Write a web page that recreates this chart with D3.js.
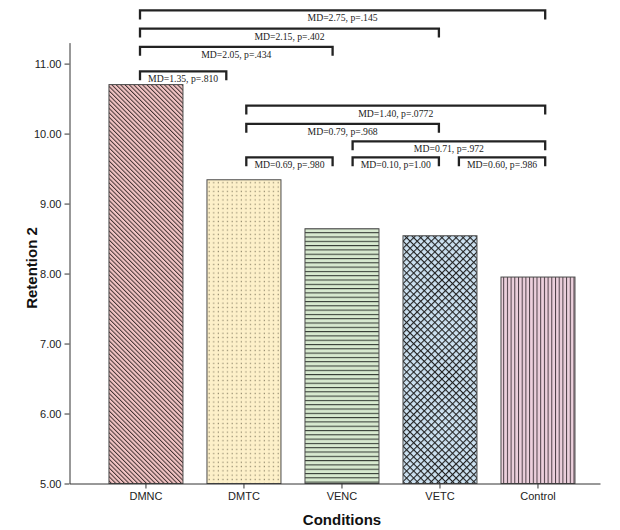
<!DOCTYPE html>
<html>
<head>
<meta charset="utf-8">
<script src="https://cdn.jsdelivr.net/npm/d3@7"></script>
<style>
    body { margin: 0; background: #fff; }
    .tick text { font-family: "Liberation Sans", Arial, sans-serif; font-size: 11px; fill: #222; }
    .axis-title { font-family: "Liberation Sans", Arial, sans-serif; font-size: 15px; font-weight: bold; fill: #111; }
    .md-label { font-family: "Liberation Serif", "Times New Roman", serif; font-size: 9.7px; fill: #222; }
</style>
</head>
<body>
<div id="chart"></div>
<script>
/* ===== DATA ===== */
const categories = ["DMNC", "DMTC", "VENC", "VETC", "Control"];
const means = [10.70, 9.34, 8.64, 8.54, 7.95];
const yTicks = [5, 6, 7, 8, 9, 10, 11];

// pairwise comparisons: from index, to index, bracket height (in y units), label
const pairFrom = [0, 0, 0, 0, 1, 1, 2, 1, 2, 3];
const pairTo = [4, 3, 2, 1, 4, 3, 4, 2, 3, 4];
const pairLevel = [11.76, 11.50, 11.24, 10.89, 10.40, 10.14, 9.89, 9.66, 9.66, 9.66];
const pairLabels = [
    "MD=2.75, p=.145",
    "MD=2.15, p=.402",
    "MD=2.05, p=.434",
    "MD=1.35, p=.810",
    "MD=1.40, p=.0772",
    "MD=0.79, p=.968",
    "MD=0.71, p=.972",
    "MD=0.69, p=.980",
    "MD=0.10, p=1.00",
    "MD=0.60, p=.986"
];

/* ===== LAYOUT ===== */
const width = 620;
const height = 530;
const margin = { left: 69.5, right: 20, top: 42.6, bottom: 46.5 };

const svg = d3.select("#chart")
    .append("svg")
    .attr("width", width)
    .attr("height", height);

/* ===== PATTERNS ===== */
const defs = svg.append("defs");

function addPattern(id, size, bg, transform) {
    const p = defs.append("pattern")
        .attr("id", id)
        .attr("patternUnits", "userSpaceOnUse")
        .attr("width", size[0])
        .attr("height", size[1]);
    if (transform) p.attr("patternTransform", transform);
    p.append("rect")
        .attr("width", size[0])
        .attr("height", size[1])
        .attr("fill", bg);
    return p;
}

// diagonal "\" lines
addPattern("pat-0", [3.1, 3.1], "#f3c5c5", "rotate(-45)")
    .append("line")
    .attr("x1", 0.5).attr("y1", 0).attr("x2", 0.5).attr("y2", 3.1)
    .attr("stroke", "#3a2c2c").attr("stroke-width", 0.95);

// dots
addPattern("pat-1", [4.6, 4.3], "#fdf0c9")
    .append("rect")
    .attr("x", 1.6).attr("y", 1.5).attr("width", 1.1).attr("height", 1.3)
    .attr("fill", "#8d8468");

// horizontal lines
addPattern("pat-2", [4, 4.3], "#d7e9cf")
    .append("line")
    .attr("x1", 0).attr("y1", 0.5).attr("x2", 4).attr("y2", 0.5)
    .attr("stroke", "#333a33").attr("stroke-width", 1.1);

// crosshatch
const cross = addPattern("pat-3", [5, 5], "#cde2f2", "rotate(45)");
cross.append("line")
    .attr("x1", 0.5).attr("y1", 0).attr("x2", 0.5).attr("y2", 5)
    .attr("stroke", "#222").attr("stroke-width", 1.2);
cross.append("line")
    .attr("x1", 0).attr("y1", 0.5).attr("x2", 5).attr("y2", 0.5)
    .attr("stroke", "#222").attr("stroke-width", 1.2);

// vertical lines
addPattern("pat-4", [3.7, 4], "#ecd0dc")
    .append("line")
    .attr("x1", 0.5).attr("y1", 0).attr("x2", 0.5).attr("y2", 4)
    .attr("stroke", "#4a3d44").attr("stroke-width", 1);

/* ===== SCALES ===== */
const x = d3.scaleBand()
    .domain(categories)
    .range([margin.left, width - margin.right])
    .paddingInner(0.245)
    .paddingOuter(0.329)
    .align(0.612);

const y = d3.scaleLinear()
    .domain([5, 11.3])
    .range([height - margin.bottom, margin.top]);

// brackets were laid out on their own index grid
const bx = d3.scaleLinear()
    .domain([0, 4])
    .range([140, 565.2]);
const bracketInset = 20;
const bracketDrop = 9;

/* ===== BARS ===== */
svg.append("g")
    .selectAll("rect")
    .data(categories)
    .enter()
    .append("rect")
    .attr("x", (d) => x(d))
    .attr("width", x.bandwidth())
    .attr("y", (d, i) => y(means[i]))
    .attr("height", (d, i) => y(5) - y(means[i]))
    .attr("fill", (d, i) => `url(#pat-${i})`)
    .attr("stroke", "#4a4a4a")
    .attr("stroke-width", 1);

/* ===== AXES ===== */
const yAxis = svg.append("g")
    .attr("transform", `translate(${margin.left},0)`)
    .call(d3.axisLeft(y).tickValues(yTicks).tickFormat(d3.format(".2f")).tickSize(5).tickSizeOuter(0));

const xAxis = svg.append("g")
    .attr("transform", `translate(0,${y(5)})`)
    .call(d3.axisBottom(x).tickSize(5).tickSizeOuter(0).tickPadding(4));

[yAxis, xAxis].forEach((g) => {
    g.selectAll("path, line").attr("stroke", "#333").attr("stroke-width", 1);
    g.selectAll("text").attr("font-family", null).attr("font-size", null).attr("fill", null);
});

svg.append("text")
    .attr("class", "axis-title")
    .attr("x", 342)
    .attr("y", 525)
    .attr("text-anchor", "middle")
    .text("Conditions");

svg.append("text")
    .attr("class", "axis-title")
    .attr("transform", "translate(37,268) rotate(-90)")
    .attr("text-anchor", "middle")
    .text("Retention 2");

/* ===== COMPARISON BRACKETS ===== */
const pairs = pairLabels.map((label, i) => ({
    label,
    left: bx(pairFrom[i]),
    right: bx(pairTo[i]) - bracketInset,
    top: y(pairLevel[i])
}));

const bracket = svg.append("g")
    .selectAll("g")
    .data(pairs)
    .enter()
    .append("g");

bracket.append("path")
    .attr("d", (d) => `M${d.left},${d.top + bracketDrop}V${d.top}H${d.right}V${d.top + bracketDrop}`)
    .attr("fill", "none")
    .attr("stroke", "#222")
    .attr("stroke-width", 2.3);

bracket.append("text")
    .attr("class", "md-label")
    .attr("x", (d) => (d.left + d.right) / 2)
    .attr("y", (d) => d.top + 11)
    .attr("text-anchor", "middle")
    .text((d) => d.label);
</script>
</body>
</html>
